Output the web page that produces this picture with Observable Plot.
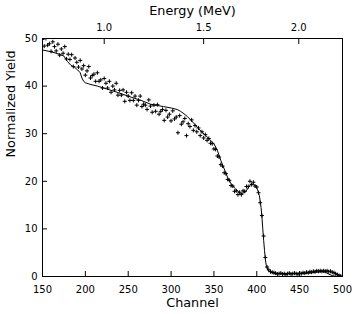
<!DOCTYPE html>
<html><head><meta charset="utf-8">
<script src="https://cdn.jsdelivr.net/npm/d3@7"></script>
<script src="https://cdn.jsdelivr.net/npm/@observablehq/plot@0.6"></script>
<style>body{margin:0;background:#fff}</style>
</head><body><div id="chart"></div>
<script>
// Simulation curve (solid line)
const simChannel = [150,160,170,175,179,183,187,191,194,196,198,200,205,214,225,237,253,265,276,291,300,307,311,315,319,323,327,331,335,340,345,350,354,358,362,366,370,374,378,381,384,387,390,393,396,399,401,403,405,406,407,408,409,410,411,413,416,420,430,440,450,460,470,476,480,484,488,492,496,500];
const simYield = [47.6,47.2,46.7,46.3,45.2,44.4,44.0,43.4,42.8,41.7,41.0,40.7,40.4,40.0,39.4,38.7,37.7,37.0,36.2,35.7,35.4,35.1,34.7,34.2,33.6,32.9,32.1,31.3,30.5,29.7,28.8,27.9,26.5,24.4,22.6,20.8,19.5,18.6,17.9,17.4,17.5,17.8,18.6,19.4,19.4,19.0,18.2,17.0,14.5,12.5,10.0,7.6,5.5,3.6,2.4,1.3,0.9,0.7,0.6,0.6,0.6,0.7,0.9,1.0,0.9,0.5,0.2,0.05,0,0];

// Measured spectrum (+ markers)
const dataChannel = [150,152,154,156,158,160,162,164,166,168,170,172,174,176,178,180,182,184,186,188,190,192,194,196,198,200,202,204,206,208,210,212,214,216,218,220,222,224,226,228,230,232,234,236,238,240,242,244,246,248,250,252,254,256,258,260,262,264,266,268,270,272,274,276,278,280,282,284,286,288,290,292,294,296,298,300,302,304,306,308,310,312,314,316,318,320,322,324,326,328,330,332,334,336,338,340,342,344,346,348,350,352,354,356,358,360,362,364,366,368,370,372,374,376,378,380,382,384,386,388,390,392,394,396,398,400,402,404,406,408,410,412,414,416,418,420,422,424,426,428,430,432,434,436,438,440,442,444,446,448,450,452,454,456,458,460,462,464,466,468,470,472,474,476,478,480,482,484,486,488,490,492,494,496,498,500];
const dataYield = [49.8,48.4,50.0,48.6,48.9,47.3,49.3,48.3,47.4,48.8,46.5,47.8,46.9,48.3,45.7,46.7,45.6,46.6,44.1,45.9,45.0,44.0,45.4,43.6,44.3,42.3,43.2,44.1,41.7,42.2,42.5,41.0,42.8,41.0,41.3,39.6,41.6,40.6,39.6,41.0,38.7,40.0,39.2,40.6,38.1,39.1,38.1,39.2,36.8,38.7,37.9,37.0,38.6,37.0,37.9,36.0,37.0,37.9,35.7,36.2,36.0,35.1,37.1,35.8,34.5,36.0,34.7,36.1,34.1,34.7,35.1,32.8,34.9,33.5,34.1,32.7,34.8,33.1,33.5,30.2,33.8,32.0,32.5,33.2,29.6,32.1,31.5,32.9,30.7,31.7,30.4,31.2,29.6,30.4,29.1,29.8,28.6,29.0,28.0,27.9,26.8,26.7,25.3,25.1,23.5,23.2,21.8,21.6,20.4,20.2,19.1,19.0,17.9,18.0,17.2,17.7,17.2,18.0,17.9,18.9,18.9,20.0,19.3,19.8,19.0,18.8,17.6,15.5,12.8,8.5,4.0,2.0,1.4,1.0,0.9,0.8,0.7,0.5,0.6,0.7,0.5,0.6,0.4,0.6,0.7,0.5,0.6,0.7,0.6,0.5,0.7,0.6,0.8,0.7,0.9,0.8,1.0,0.9,1.1,1.0,1.2,1.1,1.2,1.1,1.2,1.1,1.2,1.0,1.1,0.9,0.8,0.6,0.4,0.2,0.1,0.0];

const channelTicks = [150,200,250,300,350,400,450,500];
const yieldTicks = [0,10,20,30,40,50];
const energyTickChannel = [222,338,449];
const energyTickLabel = ["1.0","1.5","2.0"];

const sim = simChannel.map((c, i) => ({c, y: simYield[i]}));
const meas = dataChannel.map((c, i) => ({c, y: dataYield[i]}));
const energyLabel = new Map(energyTickChannel.map((c, i) => [c, energyTickLabel[i]]));

const chart = Plot.plot({
  width: 354, height: 314,
  marginLeft: 42, marginRight: 12, marginTop: 38, marginBottom: 38,
  style: {fontFamily: "DejaVu Sans", fontSize: "10px", color: "#000", background: "#fff", overflow: "visible"},
  x: {domain: [150, 500]},
  y: {domain: [0, 50]},
  marks: [
    Plot.frame({stroke: "#000", strokeWidth: 1}),
    Plot.axisX(channelTicks, {anchor: "bottom", tickSize: -5, tickPadding: 14, label: null}),
    Plot.axisY(yieldTicks, {anchor: "left", tickSize: -5, tickPadding: 10, label: null}),
    Plot.axisX(energyTickChannel, {anchor: "top", tickSize: -5, tickPadding: 13, tickFormat: d => energyLabel.get(d), label: null}),
    Plot.line(sim, {x: "c", y: "y", stroke: "#000", strokeWidth: 1}),
    Plot.dot(meas, {x: "c", y: "y", symbol: "plus", r: 1.4, stroke: "#000", strokeWidth: 1, clip: true}),
    Plot.text(["Energy (MeV)"], {frameAnchor: "top", dy: -33, fontSize: 12.8}),
    Plot.text(["Channel"], {frameAnchor: "bottom", dy: 30, fontSize: 12.8}),
    Plot.text(["Normalized Yield"], {frameAnchor: "left", dx: -32, rotate: -90, fontSize: 12.8})
  ]
});
document.getElementById("chart").appendChild(chart);
</script>
</body></html>
